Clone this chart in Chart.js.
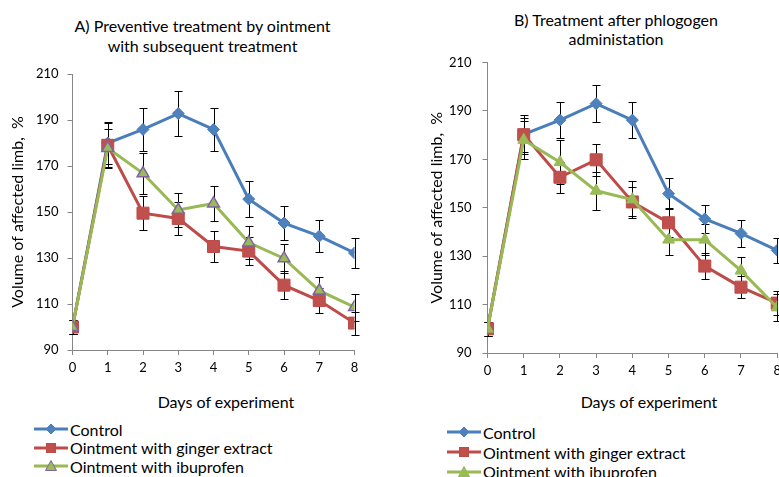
<!DOCTYPE html>
<html>
<head>
<meta charset="utf-8">
<script src="https://cdn.jsdelivr.net/npm/chart.js@4.4.1/dist/chart.umd.min.js"></script>
<style>
  html, body { margin: 0; padding: 0; width: 779px; height: 477px; overflow: hidden; background: #fff; }
  body { position: relative; font-family: Lato, sans-serif; color: #000; }
  canvas { position: absolute; top: 0; }
  .title { position: absolute; text-align: center; font-size: 16px; white-space: nowrap; }
  .xtitle { position: absolute; font-size: 16px; line-height: 19px; white-space: nowrap; transform: translate(-50%, -50%); }
  .leg { position: absolute; display: flex; align-items: center; height: 19px; font-size: 16px; white-space: nowrap; }
  .leg svg { margin-right: 2px; flex: none; }
</style>
</head>
<body>
<div class="title" style="left:0;top:16px;width:405px;line-height:20px">A) Preventive treatment by ointment<br>with subsequent treatment</div>
<div class="title" style="left:416px;top:10px;width:400px;line-height:19px">B) Treatment after phlogogen<br>administation</div>

<canvas id="chartA" width="390" height="380" style="left:0;width:390px;height:380px"></canvas>
<canvas id="chartB" width="400" height="383" style="left:415px;width:400px;height:383px"></canvas>

<div class="xtitle" style="left:226px;top:401px">Days of experiment</div>
<div class="xtitle" style="left:649px;top:401px">Days of experiment</div>

<div id="legendA"></div>
<div id="legendB"></div>

<script>
const days = [0, 1, 2, 3, 4, 5, 6, 7, 8];
const yTicks = [90, 110, 130, 150, 170, 190, 210];
const seriesNames = ['Control', 'Ointment with ginger extract', 'Ointment with ibuprofen'];

// A) preventive treatment
const controlA    = [100, 180.0, 185.9, 192.8, 185.9, 155.6, 145.2, 139.5, 132.2];
const controlAErr = [3, 9, 9.5, 9.7, 9.5, 7.8, 7.3, 7.0, 6.7];
const gingerA     = [100, 179.0, 149.5, 147.2, 135.0, 133.0, 118.2, 111.5, 101.7];
const gingerAErr  = [3, 9.5, 7.4, 7.0, 6.7, 6.0, 6.0, 5.5, 5.0];
const ibuA        = [100, 177.8, 166.8, 150.9, 153.7, 136.7, 129.8, 115.8, 108.6];
const ibuAErr     = [3, 8.5, 8.8, 7.5, 7.8, 7.0, 6.5, 5.8, 5.8];

// B) treatment after phlogogen
const controlB    = [100, 180.3, 186.2, 193.0, 186.2, 155.8, 145.4, 139.4, 132.4];
const controlBErr = [3, 8, 7.5, 7.7, 7.5, 6.4, 5.8, 5.5, 5.2];
const gingerB     = [100, 180.2, 162.6, 169.8, 152.4, 143.8, 125.9, 117.2, 110.6];
const gingerBErr  = [3, 7, 6.4, 6.6, 6.0, 6.0, 5.3, 4.6, 5.0];
const ibuB        = [100, 178.0, 168.8, 157.0, 153.4, 136.8, 136.8, 124.0, 108.8];
const ibuBErr     = [3, 8, 9.0, 7.8, 7.8, 6.3, 6.3, 5.8, 5.5];

const lineColors = ['#4A7EBB', '#BE4B48', '#98B954'];
const fillColors = ['#4F81BD', '#C0504D', '#9BBB59'];
const markers = ['rectRot', 'rect', 'triangle'];
const radii = [6, 8.5, 6.8];

const errorBars = {
  id: 'errorBars',
  beforeDatasetsDraw(chart) {
    const { ctx, scales: { x, y } } = chart;
    ctx.save();
    ctx.strokeStyle = '#000';
    ctx.lineWidth = 1;
    chart.data.datasets.forEach(ds => {
      ds.data.forEach((p, i) => {
        const e = ds.errors[i];
        const px = Math.round(x.getPixelForValue(p.x)) + 0.5;
        const top = Math.round(y.getPixelForValue(p.y + e)) + 0.5;
        const bot = Math.round(y.getPixelForValue(p.y - e)) + 0.5;
        ctx.beginPath();
        ctx.moveTo(px, top); ctx.lineTo(px, bot);
        ctx.moveTo(px - 4, top); ctx.lineTo(px + 4, top);
        ctx.moveTo(px - 4, bot); ctx.lineTo(px + 4, bot);
        ctx.stroke();
      });
    });
    ctx.restore();
  }
};

function makeChart(id, sets, opt) {
  const axisGrid = { drawOnChartArea: false, drawTicks: true, tickLength: 5, color: '#868686' };
  return new Chart(document.getElementById(id), {
    type: 'line',
    data: {
      datasets: sets.map((s, k) => ({
        label: seriesNames[k],
        data: days.map((d, i) => ({ x: d, y: s.values[i] })),
        errors: s.errors,
        borderColor: lineColors[k],
        backgroundColor: fillColors[k],
        pointBackgroundColor: fillColors[k],
        pointBorderColor: s.markerBorder || lineColors[k],
        pointBorderWidth: s.markerBorder ? 1.5 : 1,
        pointStyle: markers[k],
        pointRadius: radii[k],
        pointHoverRadius: radii[k],
        borderWidth: 3,
        tension: 0,
        order: 2 - k
      }))
    },
    options: {
      responsive: false,
      animation: false,
      events: [],
      layout: { padding: { top: opt.top, right: opt.right, bottom: 0, left: 0 } },
      plugins: { legend: { display: false }, title: { display: false }, tooltip: { enabled: false } },
      scales: {
        x: {
          type: 'linear', min: 0, max: 8,
          afterFit: s => { s.height = opt.xHeight; },
          afterBuildTicks: s => { s.ticks = days.map(v => ({ value: v })); },
          ticks: { font: { family: 'Lato', size: 13 }, color: '#000', padding: 5 },
          grid: axisGrid,
          border: { color: '#868686' }
        },
        y: {
          min: 90, max: 210,
          afterFit: s => { s.width = opt.yWidth; },
          afterBuildTicks: s => { s.ticks = yTicks.map(v => ({ value: v })); },
          ticks: { font: { family: 'Lato', size: 13 }, color: '#000', padding: opt.tickPad },
          grid: axisGrid,
          border: { color: '#868686' },
          title: {
            display: true, text: 'Volume of affected limb,  %', color: '#000',
            font: { family: 'Lato', size: 16 }, padding: { top: opt.titlePad, bottom: 0 }
          }
        }
      }
    },
    plugins: [errorBars]
  });
}

makeChart('chartA', [
  { values: controlA, errors: controlAErr },
  { values: gingerA, errors: gingerAErr },
  { values: ibuA, errors: ibuAErr, markerBorder: '#8064A2' }
], { top: 74, right: 35.5, yWidth: 72.5, xHeight: 30, tickPad: 9, titlePad: 8.5 });

makeChart('chartB', [
  { values: controlB, errors: controlBErr },
  { values: gingerB, errors: gingerBErr },
  { values: ibuB, errors: ibuBErr }
], { top: 62.5, right: 37.8, yWidth: 72.5, xHeight: 30, tickPad: 11, titlePad: 12.5 });

function markerSvg(k, border) {
  const line = `<line x1="0" y1="7" x2="34" y2="7" stroke="${lineColors[k]}" stroke-width="3"/>`;
  let m;
  if (k === 0) m = `<polygon points="17,2 22,7 17,12 12,7" fill="${fillColors[0]}" stroke="${lineColors[0]}"/>`;
  else if (k === 1) m = `<rect x="12.5" y="2.5" width="9" height="9" fill="${fillColors[1]}" stroke="${lineColors[1]}"/>`;
  else m = `<polygon points="17,1.5 22.5,11.5 11.5,11.5" fill="${fillColors[2]}" stroke="${border || lineColors[2]}"/>`;
  return `<svg width="34" height="14">${line}${m}</svg>`;
}

function makeLegend(id, left, centers, triBorder) {
  const box = document.getElementById(id);
  seriesNames.forEach((name, k) => {
    const row = document.createElement('div');
    row.className = 'leg';
    row.style.left = left + 'px';
    row.style.top = (centers[k] - 9.5) + 'px';
    row.innerHTML = markerSvg(k, triBorder) + '<span>' + name + '</span>';
    box.appendChild(row);
  });
}

makeLegend('legendA', 34, [429, 447.5, 466], '#8064A2');
makeLegend('legendB', 447, [432.3, 452.3, 471.7]);
</script>
</body>
</html>
